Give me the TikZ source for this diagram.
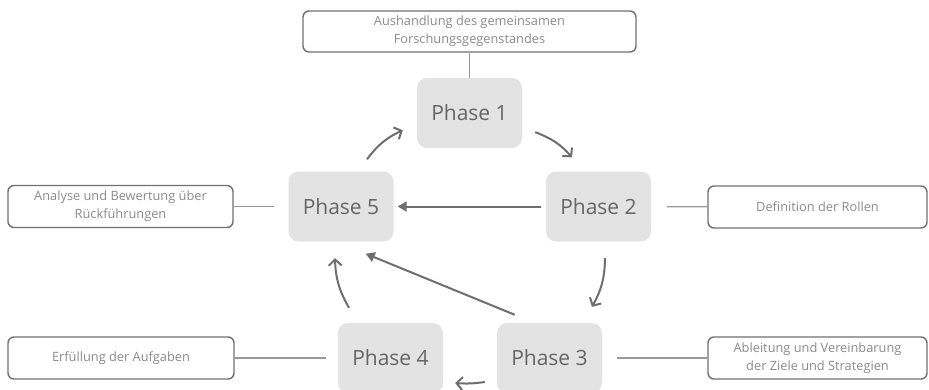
\documentclass[tikz,border=0pt]{standalone}
\usepackage{fontspec}
\setmainfont{Open Sans}
\usetikzlibrary{arrows.meta}
\definecolor{phasefill}{HTML}{E3E3E3}
\definecolor{phasetext}{HTML}{666666}
\definecolor{notetext}{HTML}{8A8A8A}
\definecolor{noteline}{HTML}{707070}
\definecolor{linkgray}{HTML}{9A9A9A}
\definecolor{arrowgray}{HTML}{6E6E6E}

\begin{document}
\begin{tikzpicture}[x=1pt,y=1pt,
  phase/.style={fill=phasefill, rounded corners=10pt, minimum width=105pt, minimum height=70pt,
    text=phasetext, font=\fontsize{21}{24}\selectfont},
  note/.style={draw=noteline, line width=1.4pt, rounded corners=6pt, minimum height=42pt,
    text=notetext, align=center, font=\fontsize{12.8}{18}\selectfont},
  link/.style={draw=linkgray, line width=1.2pt},
  cyc/.style={draw=arrowgray, line width=2pt, -{Straight Barb[length=6pt,width=13pt]}},
  back/.style={draw=arrowgray, line width=2pt, -{Triangle[length=9pt,width=10pt]}}]
\useasboundingbox (0,0) rectangle (929,-389);

\node[phase] (p1) at (469.5,-113) {Phase 1};
\node[phase] (p2) at (598.5,-206.5) {Phase 2};
\node[phase] (p3) at (549.5,-358) {Phase 3};
\node[phase] (p4) at (390.5,-358) {Phase 4};
\node[phase] (p5) at (341,-206.5) {Phase 5};

\node[note, minimum width=333pt, minimum height=41pt] (l1) at (469.5,-31.5) {Aushandlung des gemeinsamen\\Forschungsgegenstandes};
\node[note, minimum width=219pt] (l2) at (817.5,-207) {Definition der Rollen};
\node[note, minimum width=219pt] (l3) at (817.5,-358) {Ableitung und Vereinbarung\\der Ziele und Strategien};
\node[note, minimum width=226pt] (l4) at (121,-358) {Erfüllung der Aufgaben};
\node[note, minimum width=225pt] (l5) at (120.5,-206.5) {Analyse und Bewertung über\\Rückführungen};

\draw[link] (l1) -- (p1);
\draw[link, shorten <=16pt] (p2) -- (l2);
\draw[link, shorten <=15pt] (p3) -- (l3);
\draw[link, shorten >=12pt] (l4) -- (p4);
\draw[link, shorten >=14pt] (l5) -- (p5);

\draw[cyc] ([xshift=13pt,yshift=16pt]p1.south east) to[bend left=14] ([xshift=-26.5pt,yshift=14pt]p2.north);
\draw[cyc] ([xshift=6.5pt,yshift=-16.5pt]p2.south) to[bend left=14] ([xshift=42.5pt,yshift=16pt]p3.north);
\draw[cyc] ([xshift=-12pt,yshift=-24pt]p3.west) to[bend left=6] ([xshift=12pt,yshift=-25pt]p4.east);
\draw[cyc] ([xshift=-41.5pt,yshift=15pt]p4.north) to[bend left=14] ([xshift=-6pt,yshift=-16.5pt]p5.south);
\draw[cyc] ([xshift=26pt,yshift=12pt]p5.north) to[bend left=14] ([xshift=-14pt,yshift=18pt]p1.south west);

\draw[back] ([xshift=-5pt]p2.west) -- ([xshift=4pt]p5.east);
\draw[back] ([xshift=18pt,yshift=8pt]p3.north west) -- ([xshift=-28pt,yshift=-12pt]p5.south east);
\end{tikzpicture}
\end{document}
